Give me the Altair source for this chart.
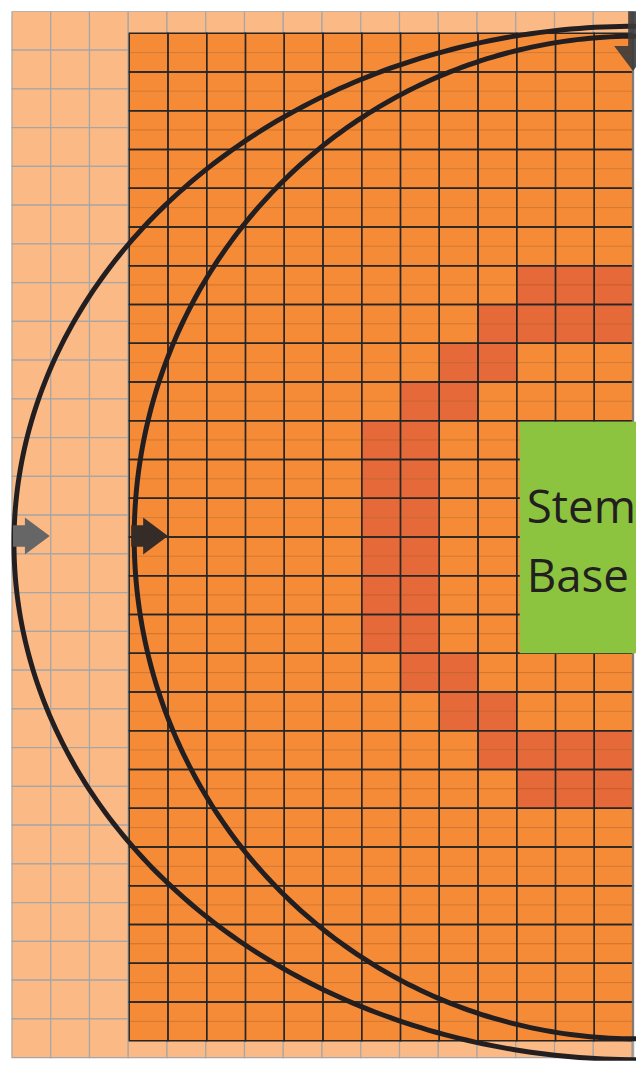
import altair as alt
import numpy as np
import pandas as pd

# ---------------- data ----------------
LIGHT_COLS = 16          # light (outer) grid
LIGHT_ROWS = 27
DARK_COLS = 13           # dark (inner) grid, major cells
DARK_ROWS = 26           # each major row is split in two half rows
# red cells of the inner grid: major row -> major columns
RED_ROWS = [6, 7, 8, 9, 10, 11, 12, 13, 14, 15, 16, 17, 18, 19]
RED_COLS = [[10, 11, 12], [9, 10, 11, 12], [8, 9], [7, 8], [6, 7], [6, 7], [6, 7],
            [6, 7], [6, 7], [6, 7], [7, 8], [8, 9], [9, 10, 11, 12], [10, 11, 12]]
LABEL_LINES = ["Stem", "Base"]
ARC_NAMES = ["outer", "inner"]

# ---------------- layout (image pixel coordinates) ----------------
W, H = 632, 1056
X_MIN, X_MAX = 8, 640
Y_MIN, Y_MAX = 8, 1064
CELL = 39
LIGHT_X0, LIGHT_Y0 = 12, 8
DARK_X0, DARK_Y0 = 130, 30
GREEN_BOX = (523, 640, 421, 654)
LABEL_X = 530
LABEL_Y = [523, 592]
EDGE_X = 637
ARC_GEOM = {"outer": (640, 543, 626, 520), "inner": (640, 537.5, 505, 504.5)}
LEFT_ARROWS = [(31.5, 536, "#666666"), (150.5, 536, "#352c27")]
DOWN_ARROW = (637, 35.5)

C_LIGHT = "#fbb985"
C_DARK = "#f68b37"
C_RED = "#e66939"
C_GREEN = "#8cc43f"
C_INK = "#231f20"

XS = alt.Scale(domain=[X_MIN, X_MAX], nice=False, zero=False)
YS = alt.Scale(domain=[Y_MIN, Y_MAX], nice=False, zero=False, reverse=True)


def X(f):
    return alt.X(f, type="quantitative", scale=XS, axis=None)


def Y(f):
    return alt.Y(f, type="quantitative", scale=YS, axis=None)


def rect_enc(ch):
    return ch.encode(x=X("x"), x2="x2", y=Y("y"), y2="y2")


# light grid
light = pd.DataFrame([
    {"x": LIGHT_X0 + c * CELL, "x2": LIGHT_X0 + (c + 1) * CELL,
     "y": LIGHT_Y0 + r * CELL, "y2": LIGHT_Y0 + (r + 1) * CELL}
    for c in range(LIGHT_COLS) for r in range(LIGHT_ROWS)])
light_layer = rect_enc(alt.Chart(light).mark_rect(
    fill=C_LIGHT, stroke="#a6a6a6", strokeWidth=1.2, clip=True))

# dark half cells
red_set = {(r, c) for r, cols in zip(RED_ROWS, RED_COLS) for c in cols}
half = CELL / 2
dark = pd.DataFrame([
    {"x": DARK_X0 + c * CELL, "x2": DARK_X0 + (c + 1) * CELL,
     "y": DARK_Y0 + h * half, "y2": DARK_Y0 + (h + 1) * half,
     "fill": C_RED if (h // 2, c) in red_set else C_DARK}
    for c in range(DARK_COLS) for h in range(DARK_ROWS * 2)])
dark_layer = rect_enc(alt.Chart(dark).mark_rect(
    stroke="#8a4a1a", strokeOpacity=0.25, strokeWidth=1, clip=True)).encode(
    fill=alt.Fill("fill:N", scale=None))

# dark major grid
major = pd.DataFrame([
    {"x": DARK_X0 + c * CELL, "x2": DARK_X0 + (c + 1) * CELL,
     "y": DARK_Y0 + r * CELL, "y2": DARK_Y0 + (r + 1) * CELL}
    for c in range(DARK_COLS) for r in range(DARK_ROWS)])
major_layer = rect_enc(alt.Chart(major).mark_rect(
    fillOpacity=0, stroke="#262626", strokeWidth=1.4, clip=True))

# right edge border
edge = pd.DataFrame([{"x": EDGE_X, "y": LIGHT_Y0, "y2": LIGHT_Y0 + LIGHT_ROWS * CELL}])
edge_layer = alt.Chart(edge).mark_rule(
    color="#8f8a86", strokeWidth=2.5, opacity=0.75, clip=True).encode(
    x=X("x"), y=Y("y"), y2="y2")

# green box and label
gx, gx2, gy, gy2 = GREEN_BOX
green = pd.DataFrame([{"x": gx, "x2": gx2, "y": gy, "y2": gy2}])
green_layer = rect_enc(alt.Chart(green).mark_rect(fill=C_GREEN, clip=True))

labels = pd.DataFrame({"t": LABEL_LINES, "x": [LABEL_X] * 2, "y": LABEL_Y})
label_layer = alt.Chart(labels).mark_text(
    align="left", baseline="alphabetic", fontSize=46, color=C_INK,
    font="Open Sans").encode(
    x=X("x"), y=Y("y"), text="t:N")

# arcs (left halves of ellipses)
rows = []
theta = np.linspace(np.pi / 2, 3 * np.pi / 2, 241)
for name in ARC_NAMES:
    cx, cy, a, b = ARC_GEOM[name]
    for i, t in enumerate(theta):
        rows.append({"arc": name, "i": i, "x": cx + a * np.cos(t), "y": cy + b * np.sin(t)})
arcs = pd.DataFrame(rows)
arc_layer = alt.Chart(arcs).mark_line(
    color=C_INK, strokeWidth=5, clip=True).encode(
    x=X("x"), y=Y("y"), detail="arc:N", order="i:Q")

# arrows
RIGHT_PATH = "M-1,-0.58 L-0.35,-0.58 L-0.35,-1 L1,0 L-0.35,1 L-0.35,0.58 L-1,0.58 Z"
DOWN_PATH = "M-0.15,-1 L0.15,-1 L0.15,0.23 L0.585,0.23 L0,1 L-0.585,0.23 L-0.15,0.23 Z"
arr = pd.DataFrame([{"x": x, "y": y, "c": c} for x, y, c in LEFT_ARROWS])
arrow_layer = alt.Chart(arr).mark_point(
    shape=RIGHT_PATH, size=37 * 37, filled=True, opacity=1, strokeWidth=0).encode(
    x=X("x"), y=Y("y"), fill=alt.Fill("c:N", scale=None))
down = pd.DataFrame([{"x": DOWN_ARROW[0], "y": DOWN_ARROW[1]}])
down_layer = alt.Chart(down).mark_point(
    shape=DOWN_PATH, size=65 * 65, filled=True, fill="#3b3b3b", opacity=0.9,
    strokeWidth=0, clip=True).encode(x=X("x"), y=Y("y"))

chart = alt.layer(
    light_layer, dark_layer, major_layer, edge_layer, green_layer, label_layer,
    arc_layer, arrow_layer, down_layer
).properties(width=W, height=H, padding=0, autosize="none").configure_view(stroke=None)

chart.save("out.html", embed_options={"renderer": "svg", "actions": False})
